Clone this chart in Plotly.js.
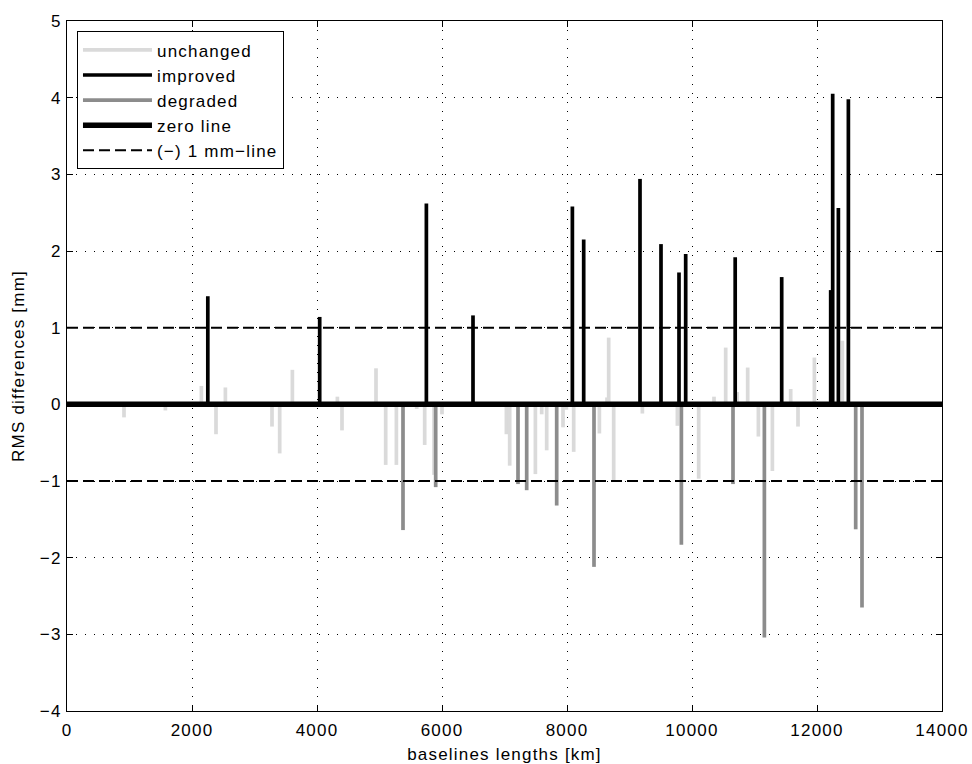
<!DOCTYPE html>
<html>
<head>
<meta charset="utf-8">
<script src="https://cdn.plot.ly/plotly-3.0.1.min.js"></script>
<style>
html,body{margin:0;padding:0;background:#fff;}
#chart{width:972px;height:764px;}
svg text{letter-spacing:1.2px;}
</style>
</head>
<body>
<div id="chart"></div>
<script>
// Baseline lengths [km] and RMS differences [mm]
var unchangedX = [912, 1574, 2150, 2384, 2534, 3280, 3403, 3606, 4326, 4400, 4944, 5099, 5270, 5595, 5723, 5872, 6000, 7030, 7083, 7494, 7595, 7675, 7936, 7990, 8107, 8518, 8640, 8667, 8747, 9206, 9766, 10107, 10352, 10539, 10723, 10891, 11062, 11286, 11579, 11696, 11958, 12406];
var unchangedY = [-0.17, -0.08, 0.24, -0.39, 0.22, -0.29, -0.64, 0.45, 0.10, -0.34, 0.47, -0.79, -0.79, -0.06, -0.53, -0.92, -0.13, -0.39, -0.80, -0.91, -0.13, -0.60, -0.30, -0.07, -0.62, -0.38, 0.09, 0.87, -0.99, -0.12, -0.28, -0.97, 0.10, 0.74, 0.16, 0.48, -0.42, -0.87, 0.20, -0.29, 0.61, 0.83];

var improvedX = [2253, 4043, 5750, 6496, 8086, 8267, 9168, 9504, 9792, 9899, 10691, 11435, 12219, 12251, 12342, 12502];
var improvedY = [1.41, 1.14, 2.62, 1.16, 2.58, 2.15, 2.94, 2.09, 1.72, 1.96, 1.92, 1.66, 1.49, 4.05, 2.56, 3.98];

var degradedX = [5376, 5899, 7216, 7355, 7835, 8432, 9830, 10656, 11158, 12619, 12720];
var degradedY = [-1.64, -1.08, -1.04, -1.12, -1.32, -2.12, -1.83, -1.04, -3.04, -1.63, -2.65];

var xRange = [0, 14000];
var yRange = [-4, 5];
var xTicks = [0, 2000, 4000, 6000, 8000, 10000, 12000, 14000];
var yTicks = [-4, -3, -2, -1, 0, 1, 2, 3, 4, 5];
var zeroLevel = 0;
var mmLevel = 1;

var legendNames = ['unchanged', 'improved', 'degraded', 'zero line', '(\u2212) 1 mm\u2212line'];

function stems(xs, ys) {
  var px = [], py = [];
  for (var i = 0; i < xs.length; i++) {
    px.push(xs[i], xs[i], null);
    py.push(zeroLevel, ys[i], null);
  }
  return {x: px, y: py};
}

var u = stems(unchangedX, unchangedY);
var im = stems(improvedX, improvedY);
var dg = stems(degradedX, degradedY);

var traces = [
  {x: u.x, y: u.y, mode: 'lines', name: legendNames[0], line: {color: '#dadada', width: 3.7}, connectgaps: false},
  {x: im.x, y: im.y, mode: 'lines', name: legendNames[1], line: {color: '#000000', width: 3.7}, connectgaps: false},
  {x: dg.x, y: dg.y, mode: 'lines', name: legendNames[2], line: {color: '#8c8c8c', width: 3.7}, connectgaps: false},
  {x: xRange, y: [zeroLevel, zeroLevel], mode: 'lines', name: legendNames[3], line: {color: '#000000', width: 5.5}},
  {x: [xRange[0], xRange[1], null, xRange[0], xRange[1]], y: [mmLevel, mmLevel, null, -mmLevel, -mmLevel], mode: 'lines', name: legendNames[4], line: {color: '#000000', width: 2, dash: '11px,5px'}}
];

var axisCommon = {
  showline: true, linecolor: '#000', linewidth: 1, mirror: 'allticks',
  ticks: 'inside', ticklen: 6, tickcolor: '#000', tickwidth: 1,
  showgrid: true, gridcolor: '#000', gridwidth: 1, griddash: '1px,8px',
  zeroline: false, tickfont: {size: 17, color: '#000'}
};

var layout = {
  width: 972, height: 764,
  margin: {l: 67, r: 30, t: 21, b: 53},
  paper_bgcolor: '#fff', plot_bgcolor: '#fff',
  font: {family: 'Liberation Sans, Arial, sans-serif', size: 17, color: '#000'},
  showlegend: true,
  legend: {x: 0.0114, y: 0.985, xanchor: 'left', yanchor: 'top', bgcolor: '#fff', bordercolor: '#000', borderwidth: 1, font: {size: 17}, itemwidth: 69, tracegroupgap: 0},
  xaxis: Object.assign({}, axisCommon, {range: xRange, tickvals: xTicks, ticktext: xTicks.map(String), ticklabelstandoff: 4, title: {text: 'baselines lengths [km]', font: {size: 17}, standoff: 9}}),
  yaxis: Object.assign({}, axisCommon, {range: yRange, tickvals: yTicks, ticktext: yTicks.map(function(v){return v < 0 ? '\u2212' + Math.abs(v) : String(v);}), ticklabelstandoff: 1, title: {text: 'RMS differences [mm]', font: {size: 17}, standoff: 10}})
};

Plotly.newPlot('chart', traces, layout, {displayModeBar: false, staticPlot: true});
</script>
</body>
</html>
